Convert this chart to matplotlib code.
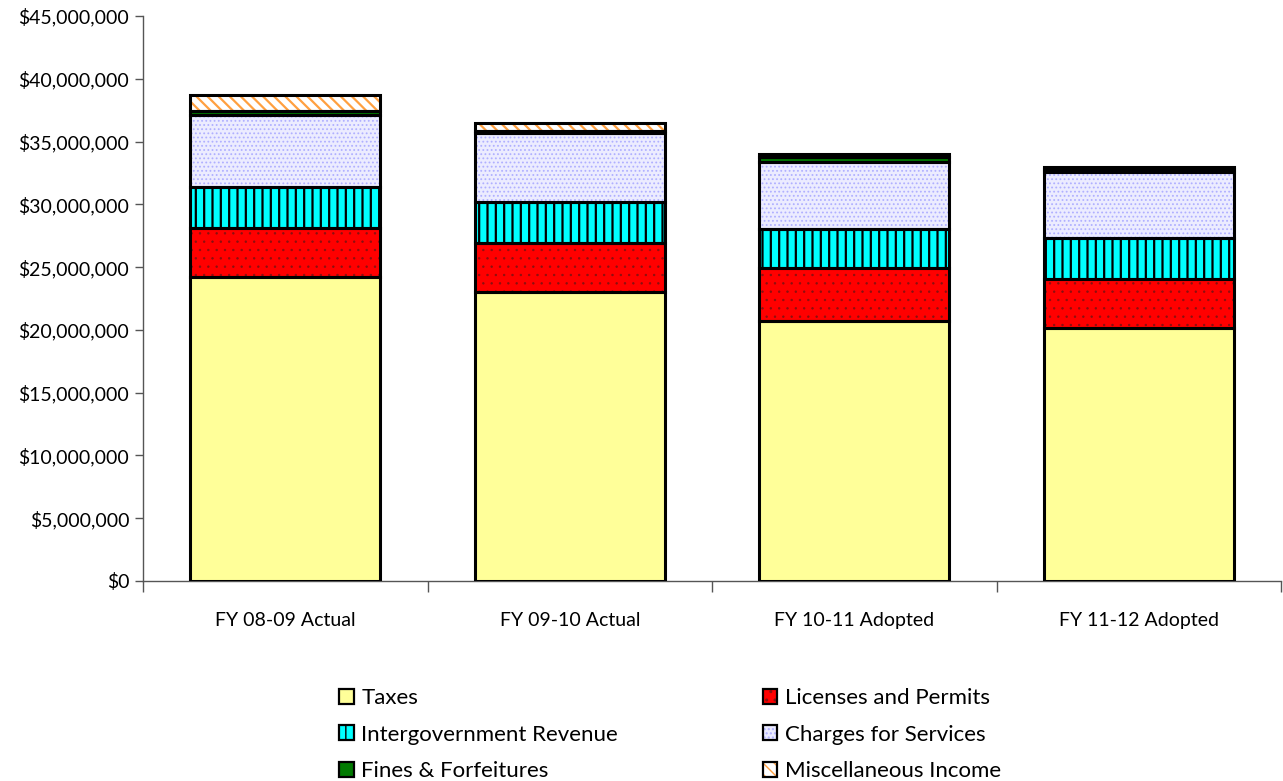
import matplotlib
matplotlib.use("Agg")
import matplotlib.pyplot as plt
from matplotlib.patches import Patch
from matplotlib.legend_handler import HandlerTuple
from matplotlib.ticker import FuncFormatter, MultipleLocator
import numpy as np

categories = ["FY 08-09 Actual", "FY 09-10 Actual", "FY 10-11 Adopted", "FY 11-12 Adopted"]
series_names = ["Taxes", "Licenses and Permits", "Intergovernment Revenue",
                "Charges for Services", "Fines & Forfeitures", "Miscellaneous Income"]
taxes = [24.2e6, 23.0e6, 20.7e6, 20.15e6]
licenses = [3.9e6, 3.9e6, 4.2e6, 3.9e6]
intergov = [3.27e6, 3.27e6, 3.1e6, 3.27e6]
charges = [5.77e6, 5.49e6, 5.34e6, 5.25e6]
fines = [0.28e6, 0.16e6, 0.40e6, 0.24e6]
misc = [1.27e6, 0.64e6, 0.24e6, 0.16e6]

plt.rcParams['font.family'] = ['Lato', 'DejaVu Sans']

styles = [
    dict(face="#FFFF99", hatch=None, hcol="#FFFF99", hlw=1.0),
    dict(face="#FF0000", hatch="..", hcol="#8A1010", hlw=0.5),
    dict(face="#00FFFF", hatch="||", hcol="#000000", hlw=1.6),
    dict(face="#ECECFF", hatch="....", hcol="#B0B0FF", hlw=0.8),
    dict(face="#007A00", hatch=None, hcol="#007A00", hlw=1.0),
    dict(face="#FFFFFF", hatch="\\\\\\", hcol="#FFA040", hlw=1.6),
]

fig = plt.figure(figsize=(12.83, 7.81), dpi=100)
ax = fig.add_axes([143/1283, 200/781, (1281-143)/1283, 565/781])

x = np.arange(len(categories))
width = 0.667
bottom = np.zeros(len(categories))
series = [taxes, licenses, intergov, charges, fines, misc]
for vals, st in zip(series, styles):
    vals = np.array(vals)
    with plt.rc_context({'hatch.linewidth': st["hlw"]}):
        ax.bar(x, vals, width, bottom=bottom, color=st["face"], edgecolor=st["hcol"],
               hatch=st["hatch"], linewidth=0, zorder=2)
    ax.bar(x, vals, width, bottom=bottom, fill=False, edgecolor="black",
           linewidth=2.2, zorder=3)
    bottom += vals

ax.set_xlim(-0.5, len(categories) - 0.5)
ax.set_ylim(0, 45e6)
ax.yaxis.set_major_locator(MultipleLocator(5e6))
ax.yaxis.set_major_formatter(FuncFormatter(lambda v, p: "${:,.0f}".format(v)))
ax.set_xticks(x)
ax.set_xticklabels(categories)
ax.set_xticks(np.arange(len(categories) + 1) - 0.5, minor=True)
ax.tick_params(axis='x', which='major', length=0, pad=22, labelsize=14)
ax.tick_params(axis='x', which='minor', length=8, width=1, color="#555555")
ax.tick_params(axis='y', length=6, width=1, color="#555555", labelsize=14, pad=4)
for s in ["top", "right"]:
    ax.spines[s].set_visible(False)
for s in ["left", "bottom"]:
    ax.spines[s].set_color("#555555")
    ax.spines[s].set_linewidth(1)

handles = []
for st in styles:
    with plt.rc_context({'hatch.linewidth': st["hlw"]}):
        p1 = Patch(facecolor=st["face"], edgecolor=st["hcol"], hatch=st["hatch"], linewidth=0)
    p2 = Patch(fill=False, edgecolor="black", linewidth=1.6)
    handles.append((p1, p2))
order = [0, 2, 4, 1, 3, 5]
fig.legend([handles[i] for i in order], [series_names[i] for i in order],
           handler_map={tuple: HandlerTuple(ndivide=1, pad=0)},
           loc="upper left", bbox_to_anchor=(328/1283, 1 - 677/781), ncol=2,
           frameon=False, fontsize=16, handlelength=0.65, handleheight=0.65,
           handletextpad=0.35, columnspacing=6.5, labelspacing=0.74, borderpad=0)

fig.savefig("out.png", dpi=100)
